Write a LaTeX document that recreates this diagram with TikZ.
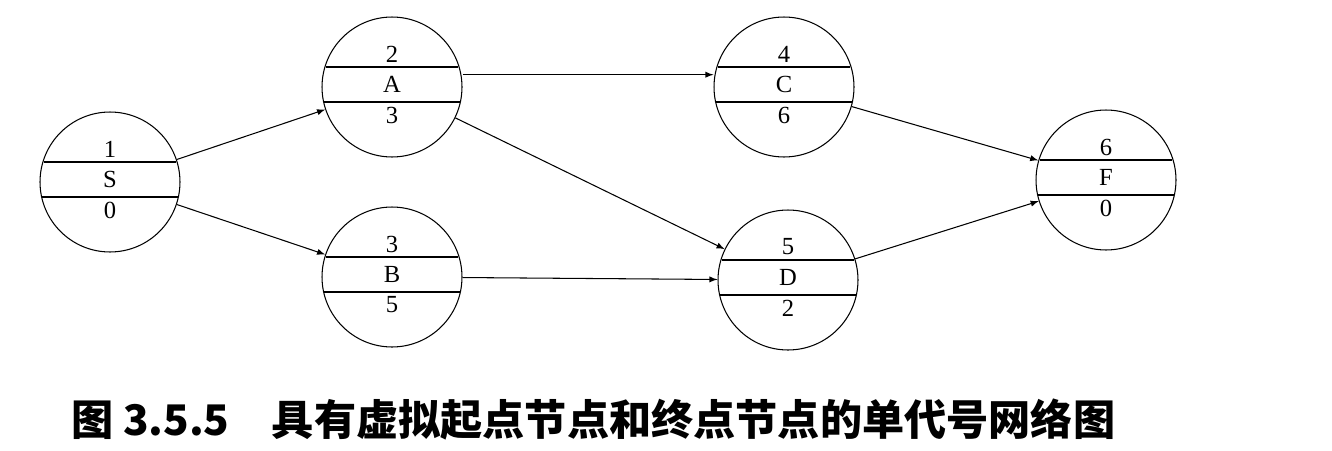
\documentclass[tikz,border=0pt]{standalone}
\usepackage{fontspec}
\setmainfont{Liberation Serif}
\newfontfamily\cjk{Noto Sans CJK SC}
\tikzset{
  event/.style={draw,semithick,circle,minimum size=2.8cm,inner sep=0pt},
  lab/.style={font=\fontsize{14}{14}\selectfont,inner sep=0pt},
}
\newcommand\eventnode[5]{%
  \node[event] (#1) at (#2) {};
  \draw[semithick] ([shift={(-66,-20)}]#1.center) -- ([shift={(66,-20)}]#1.center);
  \draw[semithick] ([shift={(-68,15)}]#1.center) -- ([shift={(68,15)}]#1.center);
  \node[lab] (#1t) at ([shift={(0,-33)}]#1.center) {#3};
  \node[lab] (#1m) at ([shift={(0,-3)}]#1.center) {#4};
  \node[lab] (#1b) at ([shift={(0,28)}]#1.center) {#5};
}
\begin{document}
\begin{tikzpicture}[x=0.02cm,y=-0.02cm]
\useasboundingbox (0,0) rectangle (1332,450);
\eventnode{S}{110,182}{1}{S}{0}
\eventnode{A}{392,87}{2}{A}{3}
\eventnode{B}{392,277}{3}{B}{5}
\eventnode{C}{784,87}{4}{C}{6}
\eventnode{D}{788,280}{5}{D}{2}
\eventnode{F}{1106,180}{6}{F}{0}

\path[semithick,->,>=latex] (S) edge (A);
\path[semithick,->,>=latex] (S) edge (B);
\path[semithick,->,>=latex] ([yshift=7]A.east) edge ([yshift=7]C.west);
\path[semithick,->,>=latex] (A) edge (D);
\path[semithick,->,>=latex] (B) edge (D);
\path[semithick,->,>=latex] (C) edge (F);
\path[semithick,->,>=latex] (D) edge (F);

\node[font=\cjk\bfseries\fontsize{24}{24}\selectfont,anchor=west] (cap) at (65,420) {图 3.5.5\quad 具有虚拟起点节点和终点节点的单代号网络图};
\end{tikzpicture}
\end{document}
